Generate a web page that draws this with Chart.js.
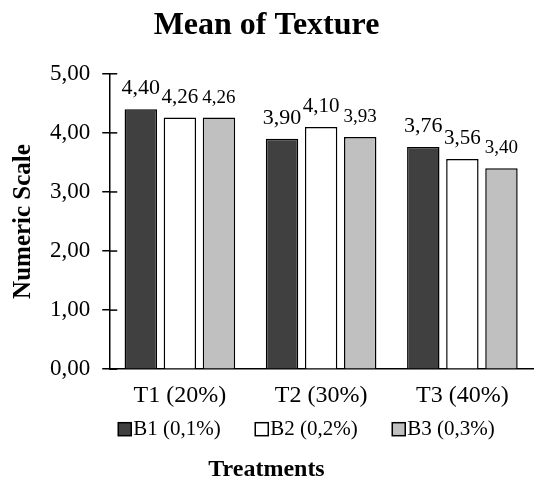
<!DOCTYPE html>
<html>
<head>
<meta charset="utf-8">
<script src="https://cdn.jsdelivr.net/npm/chart.js@4"></script>
<style>
body { margin: 0; background: #fff; }
#wrap { width: 536px; height: 482px; }
</style>
</head>
<body>
<div id="wrap"><canvas id="chart"></canvas></div>
<script>
const treatments = ["T1 (20%)", "T2 (30%)", "T3 (40%)"];
const seriesNames = ["B1 (0,1%)", "B2 (0,2%)", "B3 (0,3%)"];
const b1 = [4.40, 3.90, 3.76];
const b2 = [4.26, 4.10, 3.56];
const b3 = [4.26, 3.93, 3.40];
const yTicks = [0, 1, 2, 3, 4, 5];

const fill = ["#404040", "#ffffff", "#c0c0c0"];
const labelSize = [22, 21, 19];
const serif = "'Liberation Serif', 'Times New Roman', serif";

function fmt(v) {
  return v.toFixed(2).replace('.', ',');
}

// value labels, inner tick marks and the legend row
const extras = {
  id: 'extras',
  afterDatasetsDraw(chart) {
    const ctx = chart.ctx;
    const area = chart.chartArea;
    ctx.save();
    ctx.fillStyle = '#000';
    ctx.textAlign = 'center';
    ctx.textBaseline = 'alphabetic';
    chart.data.datasets.forEach((ds, i) => {
      ctx.font = labelSize[i] + 'px ' + serif;
      const meta = chart.getDatasetMeta(i);
      meta.data.forEach((bar, j) => {
        ctx.fillText(fmt(ds.data[j]), bar.x, bar.y - 15);
      });
    });

    const y = chart.scales.y;
    ctx.strokeStyle = '#000';
    ctx.lineWidth = 1.5;
    yTicks.forEach(t => {
      const py = y.getPixelForValue(t);
      ctx.beginPath();
      ctx.moveTo(y.right, py);
      ctx.lineTo(y.right + 8, py);
      ctx.stroke();
    });

    // legend
    ctx.font = '21px ' + serif;
    ctx.textAlign = 'left';
    ctx.textBaseline = 'middle';
    const ly = area.bottom + 60;
    let lx = area.left + 9;
    seriesNames.forEach((name, i) => {
      ctx.fillStyle = fill[i];
      ctx.fillRect(lx, ly - 6.5, 13, 13);
      ctx.strokeStyle = '#000';
      ctx.lineWidth = 1.5;
      ctx.strokeRect(lx, ly - 6.5, 13, 13);
      ctx.fillStyle = '#000';
      ctx.fillText(name, lx + 15, ly);
      lx += 137;
    });
    ctx.restore();
  }
};

const ctx = document.getElementById('chart').getContext('2d');
const myChart = new Chart(ctx, {
  type: 'bar',
  data: {
    labels: treatments,
    datasets: [b1, b2, b3].map((d, i) => ({
      label: seriesNames[i],
      data: d,
      backgroundColor: fill[i],
      borderColor: '#000',
      borderWidth: 1.5,
      categoryPercentage: 0.83,
      barPercentage: 0.83
    }))
  },
  options: {
    responsive: true,
    maintainAspectRatio: false,
    animation: false,
    layout: { padding: { left: 0, right: 3, top: 0, bottom: 0 } },
    scales: {
      x: {
        grid: { display: false, drawTicks: false },
        border: { color: '#000', width: 1.5 },
        ticks: { color: '#000', font: { family: serif, size: 24 }, padding: 12 }
      },
      y: {
        min: 0,
        max: 5,
        afterBuildTicks: s => { s.ticks = yTicks.map(v => ({ value: v })); },
        grid: { drawOnChartArea: false, tickLength: 7, color: '#000', lineWidth: 1.5 },
        border: { color: '#000', width: 1.5 },
        ticks: { color: '#000', font: { family: serif, size: 23 }, padding: 12,
          callback: v => fmt(v) },
        title: { display: true, text: 'Numeric Scale', color: '#000',
          font: { family: serif, size: 25, weight: 'bold', lineHeight: 1 }, padding: { top: 11, bottom: 2 } }
      }
    },
    plugins: {
      title: { display: true, text: 'Mean of Texture', color: '#000',
        font: { family: serif, size: 32, weight: 'bold', lineHeight: 1.15 }, padding: { top: 7, bottom: 30 } },
      subtitle: { display: true, position: 'bottom', text: 'Treatments', color: '#000',
        font: { family: serif, size: 24, weight: 'bold', lineHeight: 1 }, padding: { top: 36, bottom: 0 } },
      legend: { display: false },
      tooltip: { enabled: false }
    }
  },
  plugins: [extras]
});
</script>
</body>
</html>
